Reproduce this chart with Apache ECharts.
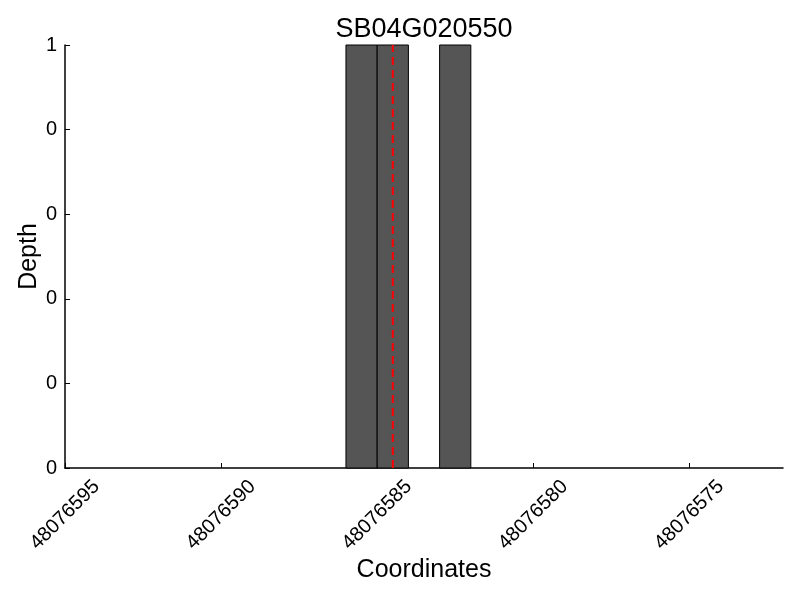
<!DOCTYPE html>
<html>
<head>
<meta charset="utf-8">
<script src="https://cdn.jsdelivr.net/npm/echarts@6/dist/echarts.min.js"></script>
<style>html,body{margin:0;padding:0;background:#fff;}#c{width:800px;height:600px;}</style>
</head>
<body>
<div id="c"></div>
<script>
const chartTitle = 'SB04G020550';
const binStarts = [48076586, 48076585, 48076583];
const binEnds = [48076585, 48076584, 48076582];
const depths = [1, 1, 1];
const markerPos = 48076584.5;
const xTicks = [48076595, 48076590, 48076585, 48076580, 48076575];
const xMin = 48076572, xMax = 48076595;
const yTicks = [0, 0.2, 0.4, 0.6, 0.8, 1];

const font = 'Liberation Sans, Arial, sans-serif';
const chart = echarts.init(document.getElementById('c'), null, {renderer: 'canvas'});
const barData = binStarts.map((s, i) => [s, binEnds[i], depths[i]]);

chart.setOption({
  animation: false,
  backgroundColor: '#ffffff',
  title: {
    text: chartTitle, left: 424, textAlign: 'center', top: 16, padding: 0,
    textStyle: {fontFamily: font, fontSize: 27, fontWeight: 'normal', color: '#000'}
  },
  grid: {left: 65, right: 17, top: 45, bottom: 132, containLabel: false},
  xAxis: {
    type: 'value', inverse: true, min: xMin, max: xMax,
    name: 'Coordinates', nameLocation: 'middle', nameGap: 90, nameMoveOverlap: false,
    nameTextStyle: {fontFamily: font, fontSize: 25, color: '#000'},
    axisLine: {show: true, lineStyle: {color: '#000', width: 1.5}},
    axisTick: {show: true, inside: true, length: 5, lineStyle: {color: '#000'}, customValues: xTicks},
    axisLabel: {
      customValues: xTicks, rotate: 45, align: 'center', verticalAlign: 'middle', margin: 47,
      fontFamily: font, fontSize: 20, color: '#000', formatter: v => String(v)
    },
    splitLine: {show: false}
  },
  yAxis: {
    type: 'value', min: 0, max: 1, interval: 0.2,
    name: 'Depth', nameLocation: 'middle', nameGap: 23, nameMoveOverlap: false,
    nameTextStyle: {fontFamily: font, fontSize: 25, color: '#000'},
    axisLine: {show: true, lineStyle: {color: '#000', width: 1.5}},
    axisTick: {show: true, inside: true, length: 5, lineStyle: {color: '#000'}},
    axisLabel: {
      fontFamily: font, fontSize: 20, color: '#000', margin: 8,
      formatter: v => String(Math.floor(v + 1e-9))
    },
    splitLine: {show: false}
  },
  series: [
    {
      type: 'custom',
      data: barData,
      encode: {x: [0, 1], y: 2},
      renderItem: function (params, api) {
        const p0 = api.coord([api.value(0), api.value(2)]);
        const p1 = api.coord([api.value(1), 0]);
        const x = Math.min(p0[0], p1[0]);
        const w = Math.abs(p1[0] - p0[0]);
        return {
          type: 'rect',
          shape: {x: x, y: p0[1], width: w, height: p1[1] - p0[1]},
          style: {fill: '#555555', stroke: '#000000', lineWidth: 1}
        };
      },
      z: 2
    },
    {
      type: 'line',
      data: [[markerPos, 0], [markerPos, 1]],
      symbol: 'none',
      lineStyle: {color: '#ff0000', width: 2, type: [8, 5]},
      z: 3
    }
  ]
});
</script>
</body>
</html>
